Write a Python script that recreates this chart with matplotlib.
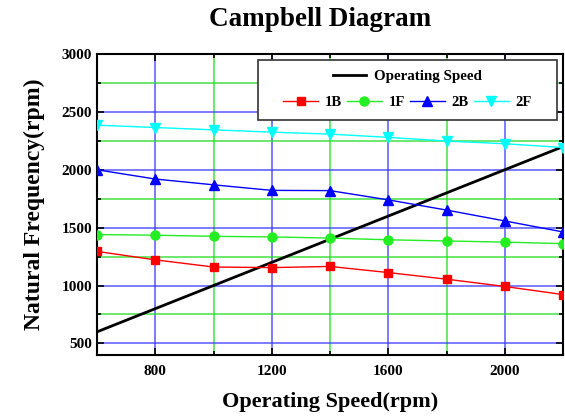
import matplotlib
matplotlib.use("Agg")
import matplotlib.pyplot as plt
from matplotlib.ticker import MultipleLocator
from matplotlib.patches import Rectangle

speed = [600, 800, 1000, 1200, 1400, 1600, 1800, 2000, 2200]
f_1B = [1295, 1222, 1160, 1155, 1165, 1112, 1055, 992, 922]
f_1F = [1440, 1435, 1425, 1420, 1410, 1395, 1385, 1375, 1362]
f_2B = [2000, 1920, 1870, 1822, 1820, 1740, 1652, 1558, 1463]
f_2F = [2385, 2365, 2345, 2325, 2308, 2280, 2248, 2225, 2192]
op_x = [600, 2200]
op_y = [600, 2200]

plt.rcParams['font.family'] = ['Liberation Serif', 'DejaVu Serif']
plt.rcParams['font.weight'] = 'bold'

fig = plt.figure(figsize=(5.65, 4.18), dpi=100)
ax = fig.add_axes([97/565, 1-355/418, 466/565, 301/418])

ax.set_xlim(600, 2200)
ax.set_ylim(400, 3000)
ax.xaxis.set_major_locator(MultipleLocator(400))
ax.xaxis.set_minor_locator(MultipleLocator(200))
ax.yaxis.set_major_locator(MultipleLocator(500))
ax.yaxis.set_minor_locator(MultipleLocator(250))
ax.set_xticks([800, 1200, 1600, 2000])

blue = '#3a3aff'
green = '#22dd22'
ax.grid(True, which='major', color=blue, linewidth=1.1, alpha=0.85)
ax.grid(True, which='minor', color=green, linewidth=1.1, alpha=0.85)
ax.axvline(600, color=blue, linewidth=1.1, zorder=0.5)
ax.set_axisbelow(True)

ax.plot(op_x, op_y, color='black', linewidth=2, label='Operating Speed', zorder=3)
ax.plot(speed, f_1B, color='red', marker='s', markersize=6, linewidth=1, label='1B', zorder=3)
ax.plot(speed, f_1F, color='#22ee22', marker='o', markersize=6.5, linewidth=1, label='1F', zorder=3)
ax.plot(speed, f_2B, color='blue', marker='^', markersize=7, linewidth=1, label='2B', zorder=3)
ax.plot(speed, f_2F, color='cyan', marker='v', markersize=7, linewidth=1, label='2F', zorder=3)

for s in ax.spines.values():
    s.set_linewidth(1.5)
ax.tick_params(which='both', direction='in', top=True, right=True, labelsize=11, width=1.2)
ax.tick_params(which='major', length=5)
ax.tick_params(which='minor', length=3)
for lab in ax.get_xticklabels() + ax.get_yticklabels():
    lab.set_fontweight('bold')
ax.tick_params(axis='x', pad=7)

ax.set_title('Campbell Diagram', fontsize=19.5, fontweight='bold', pad=20)
ax.title.set_x(0.478)
ax.set_xlabel('Operating Speed(rpm)', fontsize=16, fontweight='bold', labelpad=10)
ax.set_ylabel('Natural Frequency(rpm)', fontsize=17, fontweight='bold', labelpad=12)

# legend frame
rect = Rectangle((0.345, 0.78), 0.642, 0.20, transform=ax.transAxes,
                 facecolor='white', edgecolor='#333333', linewidth=1.2, zorder=4)
ax.add_patch(rect)
handles, labels = ax.get_legend_handles_labels()
leg1 = ax.legend([handles[0]], [labels[0]], loc='center', bbox_to_anchor=(0.666, 0.925),
                 frameon=False, prop={'weight': 'bold', 'size': 10.8}, handlelength=2.2,
                 handletextpad=0.5)
leg1.set_zorder(5)
ax.add_artist(leg1)
leg2 = ax.legend(handles[1:], labels[1:], loc='center', bbox_to_anchor=(0.666, 0.838),
                 frameon=False, ncol=4, prop={'weight': 'bold', 'size': 10.5},
                 handlelength=2.4, columnspacing=0.35, handletextpad=0.45)
leg2.set_zorder(5)

fig.savefig('out.png', dpi=100)
